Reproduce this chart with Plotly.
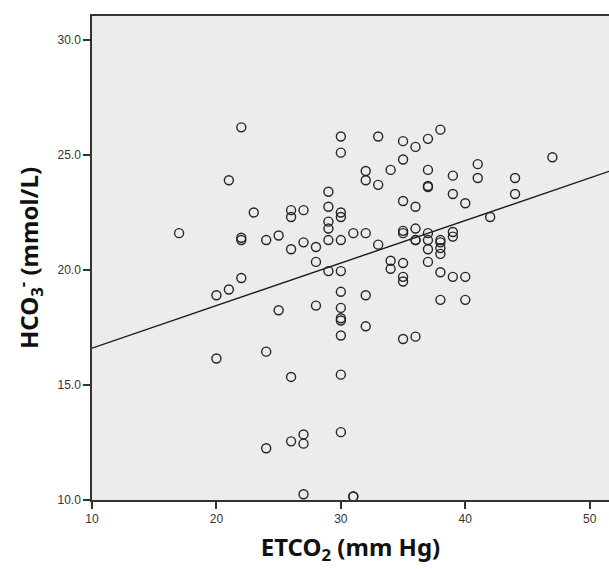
import plotly.graph_objects as go

# ETCO2 (mm Hg) readings and matching HCO3- (mmol/L) values
etco2 = [17,
         20, 20,
         21, 21,
         22, 22, 22, 22,
         23,
         24, 24, 24,
         25, 25,
         26, 26, 26, 26, 26,
         27, 27, 27, 27, 27,
         28, 28, 28,
         29, 29, 29, 29, 29, 29,
         30, 30, 30, 30, 30, 30, 30, 30, 30, 30, 30, 30, 30,
         31, 31, 31,
         32, 32, 32, 32, 32,
         33, 33, 33,
         34, 34, 34,
         35, 35, 35, 35, 35, 35, 35, 35, 35,
         36, 36, 36, 36, 36, 36,
         37, 37, 37, 37, 37, 37, 37, 37,
         38, 38, 38, 38, 38, 38, 38,
         39, 39, 39, 39, 39,
         40, 40, 40,
         41, 41,
         42,
         44, 44,
         47]
hco3 = [21.6,
        18.9, 16.15,
        23.9, 19.15,
        26.2, 21.4, 21.3, 19.65,
        22.5,
        21.3, 16.45, 12.25,
        21.5, 18.25,
        22.6, 22.3, 20.9, 15.35, 12.55,
        22.6, 21.2, 12.85, 12.45, 10.25,
        21.0, 20.35, 18.45,
        23.4, 22.75, 22.1, 21.8, 21.3, 19.95,
        25.8, 25.1, 22.5, 22.3, 21.3, 19.95, 19.05, 18.35, 17.9, 17.8, 17.15, 15.45, 12.95,
        21.6, 10.15, 10.15,
        24.3, 23.9, 21.6, 18.9, 17.55,
        25.8, 23.7, 21.1,
        24.35, 20.4, 20.05,
        25.6, 24.8, 23.0, 21.7, 21.6, 20.3, 19.7, 19.5, 17.0,
        25.35, 22.75, 21.8, 21.3, 21.3, 17.1,
        25.7, 24.35, 23.65, 23.6, 21.6, 21.3, 20.9, 20.35,
        26.1, 21.3, 21.2, 20.95, 20.7, 19.9, 18.7,
        24.1, 23.3, 21.65, 21.45, 19.7,
        22.9, 19.7, 18.7,
        24.6, 24.0,
        22.3,
        24.0, 23.3,
        24.9]

# fitted line
fit_intercept = 14.75
fit_slope = 0.185

x_range = [10, 51.55]
y_range = [10, 31.04]
x_ticks = [10, 20, 30, 40, 50]
y_ticks = [10, 15, 20, 25, 30]

fit_x = x_range
fit_y = [fit_intercept + fit_slope * v for v in fit_x]

fig = go.Figure()
fig.add_trace(go.Scatter(
    x=fit_x, y=fit_y, mode="lines",
    line=dict(color="#1a1a1a", width=1.4),
    hoverinfo="skip", showlegend=False,
))
fig.add_trace(go.Scatter(
    x=etco2, y=hco3, mode="markers",
    marker=dict(symbol="circle-open", size=9, color="#262626", line=dict(width=1.4)),
    showlegend=False,
))

tick_font = dict(family="Liberation Sans, Arial, sans-serif", size=12, color="#333333")
title_font = dict(family="Noto Sans, Open Sans, sans-serif", size=24, color="#111111")

fig.update_xaxes(
    range=x_range, tickvals=x_ticks, ticktext=[str(v) for v in x_ticks],
    showgrid=False, zeroline=False,
    showline=True, linecolor="#333333", linewidth=1.5, mirror=True,
    ticks="outside", ticklen=7, tickwidth=1.5, tickcolor="#333333",
    tickfont=tick_font,
    title=dict(text="<b>ETCO<sub>2</sub> (mm Hg)</b>", font=title_font, standoff=14),
)
fig.update_yaxes(
    range=y_range, tickvals=y_ticks, ticktext=["%.1f" % v for v in y_ticks],
    showgrid=False, zeroline=False,
    showline=True, linecolor="#333333", linewidth=1.5, mirror=False,
    ticks="outside", ticklen=7, tickwidth=1.5, tickcolor="#333333",
    tickfont=tick_font,
    title=dict(text="<b>HCO<sub>3</sub><sup>-</sup> (mmol/L)</b>", font=title_font, standoff=12),
)

fig.update_layout(
    width=609, height=569,
    margin=dict(l=92, r=0, t=16, b=69),
    plot_bgcolor="#ececec",
    paper_bgcolor="white",
)

# drop the default 8px page margin so the figure fills the window exactly
fig.write_html("out.html", config={"displayModeBar": False},
               post_script="document.body.style.margin='0';document.body.style.overflow='hidden';")
